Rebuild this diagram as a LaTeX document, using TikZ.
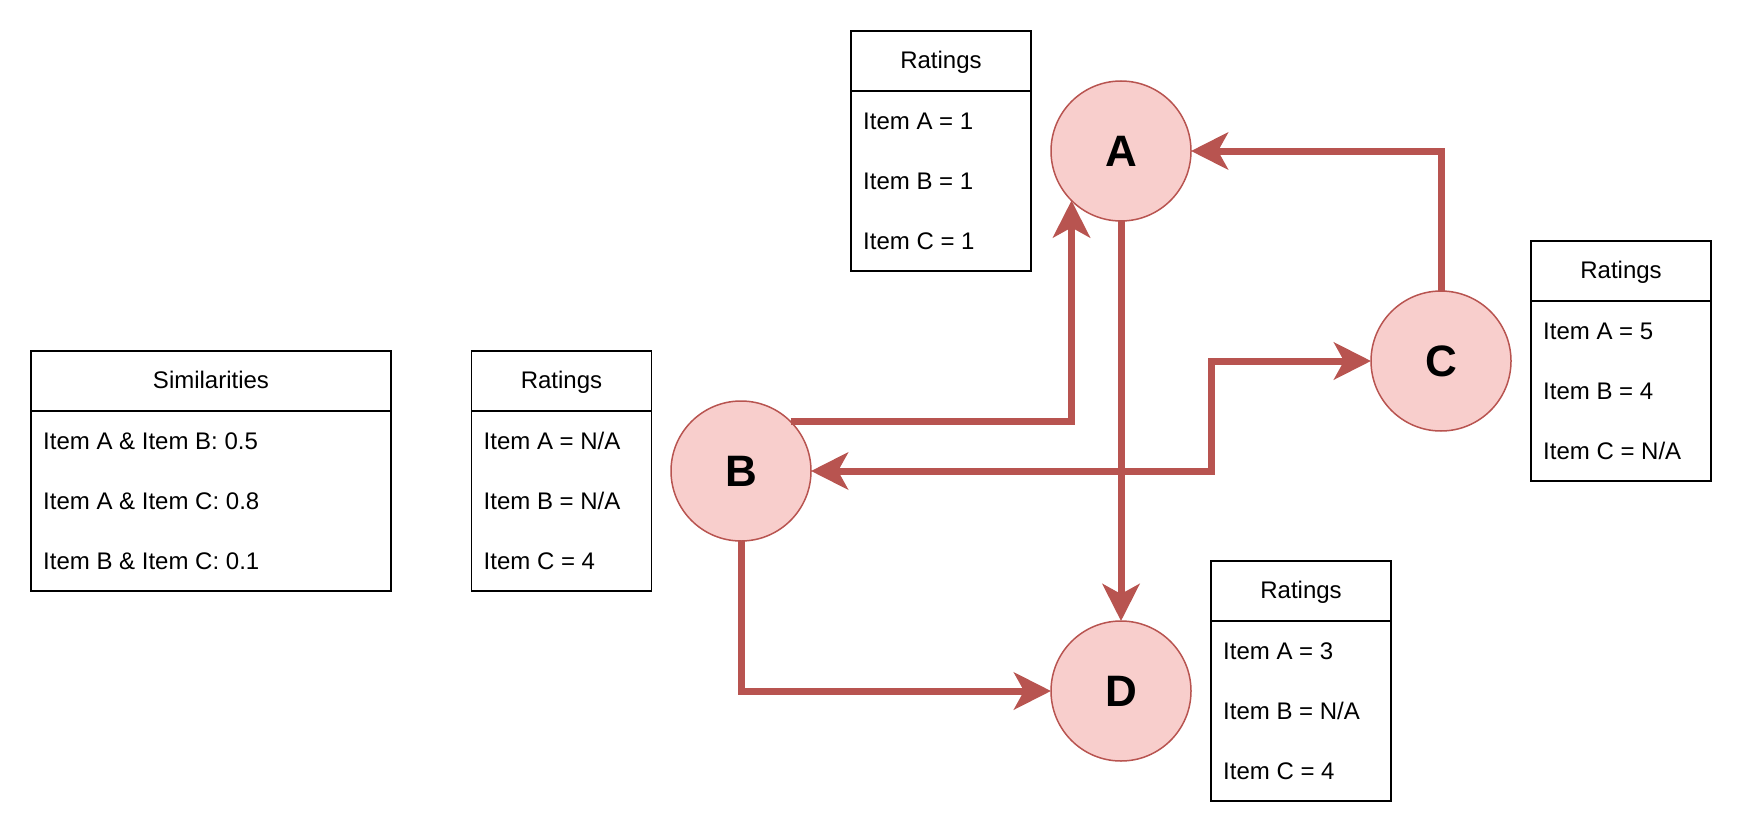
\documentclass[tikz,border=0pt]{standalone}
\usepackage{fontspec}
\setmainfont{Liberation Sans}
\usetikzlibrary{arrows.meta,calc}
\definecolor{nodefill}{HTML}{F8CECC}
\definecolor{nodeline}{HTML}{B85450}
\newcommand{\ratingtable}[8]{%
  \node[tbl, minimum width=#4pt] (#1) at (#2,#3) {};
  \node[tbltext] (#1-t) at ($(#1.north)+(0,28.5)$) {#5};
  \draw[tblline] ($(#1.north west)+(0,60)$) -- ($(#1.north east)+(0,60)$);
  \node[rowtext] (#1-a) at ($(#1.north west)+(12,89.5)$) {#6};
  \node[rowtext] (#1-b) at ($(#1.north west)+(12,149.5)$) {#7};
  \node[rowtext] (#1-c) at ($(#1.north west)+(12,209.5)$) {#8};
}
\tikzset{
  tbl/.style={draw=black, line width=1.5pt, minimum height=240pt, inner sep=0pt, outer sep=0pt, anchor=north west},
  tblline/.style={draw=black, line width=1.5pt},
  tbltext/.style={font=\fontsize{24}{28}\selectfont, inner sep=0pt, text height=17.2pt, text depth=0pt},
  rowtext/.style={tbltext, anchor=west},
  circ/.style={circle, fill=nodefill, draw=nodeline, line width=1.5pt, minimum size=140pt, inner sep=0pt, outer sep=0pt, font=\fontsize{44}{50}\selectfont\bfseries},
  >={Stealth[length=37pt,width=37pt,inset=10pt]},
  edge/.style={draw=nodeline, line width=7pt},
}
\begin{document}
\begin{tikzpicture}[x=1pt,y=-1pt]
\useasboundingbox (0,0) rectangle (1744,832);
\ratingtable{sim}{31}{351}{360}{Similarities}{Item A \& Item B: 0.5}{Item A \& Item C: 0.8}{Item B \& Item C: 0.1}
\ratingtable{tB}{471.5}{351}{180}{Ratings}{Item A = N/A}{Item B = N/A}{Item C = 4}
\ratingtable{tA}{851}{31}{180}{Ratings}{Item A = 1}{Item B = 1}{Item C = 1}
\ratingtable{tC}{1531}{241}{180}{Ratings}{Item A = 5}{Item B = 4}{Item C = N/A}
\ratingtable{tD}{1211}{561}{180}{Ratings}{Item A = 3}{Item B = N/A}{Item C = 4}

\node[circ] (A) at (1121,151) {A};
\node[circ] (B) at (741,471) {B};
\node[circ] (C) at (1441,361) {C};
\node[circ] (D) at (1121,691) {D};
\coordinate (bc) at (1211,416);

\draw[edge,->] (C.north) |- (A.east);
\draw[edge,->] (B.45.6) -| (A.225.6);
\draw[edge,->] (A.south) -- (D.north);
\draw[edge,->] (B.south) |- (D.west);
\draw[edge,<->] (C.west) -| (bc) |- (B.east);
\end{tikzpicture}
\end{document}
